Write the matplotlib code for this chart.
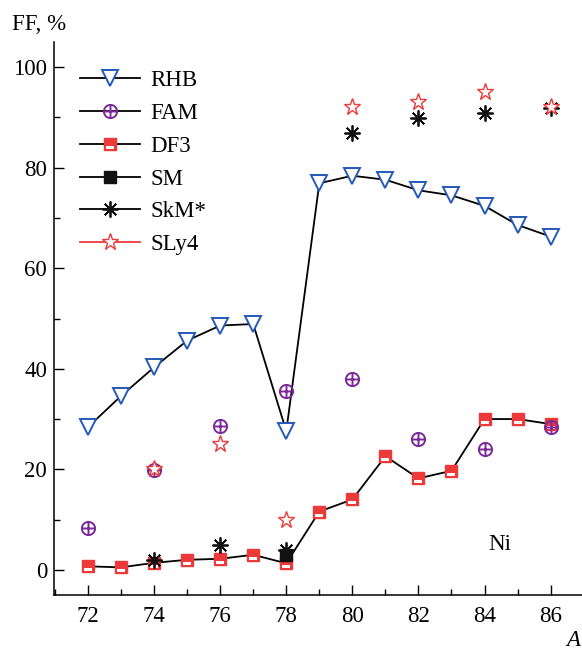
import matplotlib.pyplot as plt
import numpy as np
from matplotlib.lines import Line2D
from matplotlib.path import Path

plt.rcParams["font.family"] = ["Liberation Serif", "DejaVu Serif"]

# mass numbers and form factors (%)
a_rhb = [72, 73, 74, 75, 76, 77, 78, 79, 80, 81, 82, 83, 84, 85, 86]
ff_rhb = [28.4, 34.6, 40.3, 45.6, 48.6, 48.9, 27.6, 76.9, 78.4, 77.6, 75.5, 74.5, 72.4, 68.6, 66.3]

a_df3 = [72, 73, 74, 75, 76, 77, 78, 79, 80, 81, 82, 83, 84, 85, 86]
ff_df3 = [0.7, 0.5, 1.4, 2.0, 2.2, 3.0, 1.3, 11.6, 14.0, 22.6, 18.2, 19.7, 30.0, 30.0, 29.0]

a_fam = [72, 74, 76, 78, 80, 82, 84, 86]
ff_fam = [8.3, 19.8, 28.7, 35.6, 37.9, 26.1, 24.1, 28.4]

a_sm = [78]
ff_sm = [2.9]

a_skm = [74, 76, 78, 80, 82, 84, 86]
ff_skm = [2.0, 4.9, 4.0, 86.8, 89.9, 90.9, 91.9]

a_sly4 = [74, 76, 78, 80, 82, 84, 86]
ff_sly4 = [20.0, 25.0, 10.0, 92.0, 93.0, 95.0, 92.0]

blue = "#2559b5"
purple = "#7a2a98"
red = "#ec3a3a"
FS = 16.5

# circle with a cross inside
circ = Path.unit_circle()
cross = Path([(-1, 0), (1, 0), (0, -1), (0, 1)],
             [Path.MOVETO, Path.LINETO, Path.MOVETO, Path.LINETO])
oplus = Path.make_compound_path(circ, cross)

# white bar in the lower part of the DF3 square
bar = Path([(-0.65, -0.8), (0.65, -0.8), (0.65, -0.3), (-0.65, -0.3), (-0.65, -0.8)],
           [Path.MOVETO, Path.LINETO, Path.LINETO, Path.LINETO, Path.CLOSEPOLY])
SQ = 9.0

rhb_kw = dict(color="black", lw=1.3, marker="v", ms=11, mfc="white", mec=blue, mew=1.4)
fam_kw = dict(marker=oplus, ms=9.5, mfc="none", mec=purple, mew=1.4)
df3_kw = dict(color="black", lw=1.3, marker="s", ms=SQ, mfc=red, mec=red, mew=1.0)
bar_kw = dict(ls="none", marker=bar, ms=SQ * 0.8, mfc="white", mew=0)
sm_kw = dict(marker="s", ms=9, mfc="#111111", mec="#111111")
skm_kw = dict(marker=(8, 2, 0), ms=11.5, mec="#111111", mew=1.3)
sly_kw = dict(marker="*", ms=12.5, mfc="white", mec=red, mew=1.0)

W, H = 582, 650
fig = plt.figure(figsize=(W / 100, H / 100), dpi=100)
ax = fig.add_axes([54 / W, 55 / H, (W - 54) / W, (595 - 42) / H])

ax.plot(a_rhb, ff_rhb, zorder=3, **rhb_kw)
ax.plot(a_df3, ff_df3, zorder=4, **df3_kw)
ax.plot(a_df3, ff_df3, zorder=4.1, **bar_kw)
ax.plot(a_fam, ff_fam, ls="none", zorder=5, **fam_kw)
ax.plot(a_sm, ff_sm, ls="none", zorder=5, **sm_kw)
ax.plot(a_skm, ff_skm, ls="none", zorder=5, **skm_kw)
ax.plot(a_sly4, ff_sly4, ls="none", zorder=6, **sly_kw)

ax.set_xlim(70.97, 86.95)
ax.set_ylim(-5, 105)
ax.set_xticks(np.arange(72, 87, 2))
ax.set_xticks(np.arange(71, 87, 1), minor=True)
ax.set_yticks([0, 20, 40, 60, 80, 100])
ax.set_yticks(np.arange(10, 100, 20), minor=True)
ax.tick_params(which="both", direction="in", labelsize=FS, width=1)
ax.tick_params(which="major", length=7)
ax.tick_params(which="minor", length=4)
ax.tick_params(axis="x", pad=8)
ax.tick_params(axis="y", pad=5)
ax.spines["top"].set_visible(False)
ax.spines["right"].set_visible(False)
for s in ("left", "bottom"):
    ax.spines[s].set_linewidth(1.1)

handles = [
    Line2D([], [], **rhb_kw),
    Line2D([], [], color="black", lw=1.3, **fam_kw),
    (Line2D([], [], **df3_kw), Line2D([], [], **bar_kw)),
    Line2D([], [], color="black", lw=1.3, **sm_kw),
    Line2D([], [], color="black", lw=1.3, **skm_kw),
    Line2D([], [], color=red, lw=1.3, **sly_kw),
]
labels = ["RHB", "FAM", "DF3", "SM", "SkM*", "SLy4"]
ax.legend(handles, labels, loc="upper left", bbox_to_anchor=(80 / W, 1 - 70 / H),
          bbox_transform=fig.transFigure, frameon=False, fontsize=FS,
          handlelength=2.6, handletextpad=0.48, labelspacing=0.515,
          borderaxespad=0, borderpad=0)

ax.text(84.45, 5.0, "Ni", fontsize=FS, ha="center", va="center")
fig.text(12 / W, 1 - 25 / H, "FF, %", fontsize=FS, ha="left", va="center")
fig.text(566 / W, 1 - 640 / H, "A", fontsize=FS, style="italic", ha="left", va="center")

fig.savefig("out.png", dpi=100)
